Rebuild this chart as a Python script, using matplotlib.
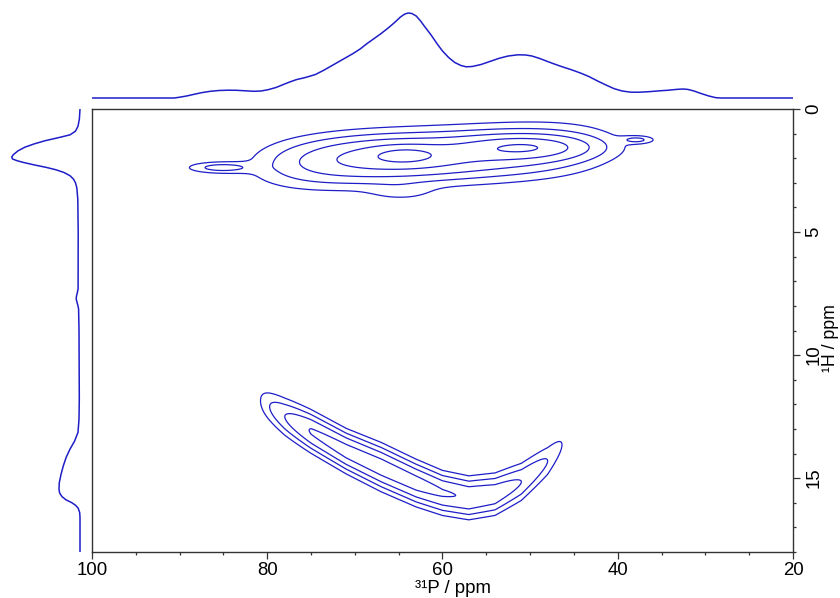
import numpy as np
import matplotlib
matplotlib.use("Agg")
import matplotlib.pyplot as plt
from matplotlib.ticker import MultipleLocator

plt.rcParams['font.family'] = ['Liberation Sans', 'DejaVu Sans']

# ---------------- data ----------------
# 31P projection (top): chemical shift (ppm) and intensity (arb.)
top_ppm = [100, 92, 90.6, 90.0, 89.2, 88.4, 87.5, 86.5, 85.5, 84.5, 83.5, 82.5, 81.5,
           80.7, 79.9, 79.0, 78.3, 77.5, 76.7, 75.6, 74.5, 73.5, 72.4, 71.3, 70.2,
           69.4, 68.6, 67.8, 67.0, 66.2, 65.4, 64.8, 64.3, 63.9, 63.5, 63.0, 62.5,
           62.0, 61.3, 60.6, 60.0, 59.3, 58.6, 57.9, 57.3, 56.6, 55.6, 54.6, 53.5,
           52.5, 51.4, 50.5, 49.8, 48.9, 48.1, 47.3, 46.5, 45.3, 44.2, 43.3, 42.3,
           41.3, 40.4, 39.5, 38.5, 37.5, 36.3, 35.2, 34.2, 33.3, 32.6, 32.0, 31.3,
           30.5, 29.6, 28.8, 28.2, 20]
top_int = [0, 0, 0, 0.8, 2.0, 3.6, 5.3, 6.7, 7.5, 7.8, 7.7, 7.2, 6.7,
           7.0, 8.3, 10.5, 13.0, 15.8, 18.3, 20.6, 23.5, 28, 33.5, 39, 44.5,
           49, 54.5, 59.5, 64.5, 70, 76, 81, 84, 85, 84.5, 82, 77,
           71, 63, 54, 47, 40.5, 35.5, 32.5, 31.2, 31.5, 33.5, 36.5, 39.8,
           42, 43.2, 43, 42, 39.5, 36.8, 34.2, 31.7, 28.3, 24.8, 21.5, 17,
           12.8, 9.3, 7.0, 5.8, 5.8, 6.4, 7.2, 7.8, 8.6, 9.0, 8.6, 7.0,
           4.5, 2.0, 0.3, 0, 0]

# 1H projection (left): chemical shift (ppm) and intensity (arb.)
left_ppm = [0.0, 0.4, 0.7, 0.9, 1.05, 1.15, 1.29, 1.42, 1.55, 1.7, 1.85, 1.95, 2.03,
            2.1, 2.17, 2.27, 2.37, 2.47, 2.58, 2.71, 2.85, 3.0, 3.2, 3.66, 5.0,
            7.3, 7.45, 7.6, 7.72, 7.85, 8.0, 8.13, 9.0, 11.8, 12.6, 13.14, 13.5,
            13.82, 14.15, 14.5, 14.85, 15.18, 15.45, 15.6, 15.75, 15.88, 15.99,
            16.1, 16.22, 16.4, 16.6, 18.0]
left_int = [0, 0.6, 2, 4.5, 10, 20, 35, 46, 55, 62, 66.5, 68.3, 67.5,
            63, 56.7, 46, 34, 24, 16, 10, 6.5, 4.5, 3.2, 2.2, 1.8,
            1.9, 2.6, 3.5, 3.8, 3.0, 2.0, 1.4, 1.0, 0.7, 1.0, 2.0, 5.5,
            10, 13.8, 16.7, 19, 20.7, 21, 20.4, 18, 14, 8.5,
            4.5, 1.8, 0.3, 0, 0]

# 2D cross peaks, upper correlation group: components
# (31P centre, 1H centre, 31P width, 1H width, amplitude, 31P shape exponent, 1H tilt ppm/ppm)
pk_p    = [61.0, 65.0, 64.3, 50.5, 85.3, 37.8, 64.7]
pk_h    = [1.92, 1.95, 1.85, 1.55, 2.38, 1.25, 3.35]
pk_wp   = [14.5, 5.5, 2.5, 4.5, 2.3, 1.2, 2.5]
pk_wh   = [0.60, 0.45, 0.25, 0.30, 0.14, 0.10, 0.25]
pk_amp  = [0.50, 0.30, 0.25, 0.50, 0.20, 0.17, 0.07]
pk_exp  = [4, 2, 2, 2, 2, 2, 2]
pk_tilt = [0.018, 0, 0, 0, 0, 0, 0]

# curved (banana-shaped) correlation: ridge nodes
ridge_p   = [46, 48, 51, 54, 57, 60, 63, 67, 71, 75, 78, 81]
ridge_h   = [13.5, 14.3, 15.15, 15.65, 15.8, 15.6, 15.2, 14.55, 13.9, 13.1, 12.5, 11.8]
ridge_amp = [0.04, 0.15, 0.30, 0.45, 0.52, 0.58, 0.68, 0.72, 0.68, 0.57, 0.30, 0.04]
ridge_wh  = [0.35, 0.4, 0.42, 0.43, 0.43, 0.43, 0.44, 0.45, 0.42, 0.42, 0.42, 0.40]

levels = [0.06, 0.15, 0.30, 0.55, 0.87]

# ---------------- build the 2D map ----------------
P = np.linspace(100, 20, 1000)
H = np.linspace(0, 18, 1000)
PP, HH = np.meshgrid(P, H)
Z = np.zeros_like(PP)
for p0, h0, wp, wh, a, e, t in zip(pk_p, pk_h, pk_wp, pk_wh, pk_amp, pk_exp, pk_tilt):
    hc = h0 + t * (PP - p0)
    Z += a * np.exp(-0.5 * np.abs((PP - p0) / wp) ** e - (HH - hc) ** 2 / (2 * wh ** 2))
rh = np.interp(P, ridge_p, ridge_h)
ra = np.interp(P, ridge_p, ridge_amp, left=0, right=0)
rw = np.interp(P, ridge_p, ridge_wh)
Z += ra[None, :] * np.exp(-(HH - rh[None, :]) ** 2 / (2 * rw[None, :] ** 2))

blue = '#1e1ec8'
frame = '#333333'

fig = plt.figure(figsize=(8.4, 5.98), dpi=100)
ax = fig.add_axes([92 / 840, 46 / 598, 701 / 840, 443 / 598])
ax.contour(PP, HH, Z, levels=levels, colors=blue, linewidths=0.9)
ax.set_xlim(100, 20)
ax.set_ylim(18, 0)

ax.xaxis.set_major_locator(MultipleLocator(20))
ax.xaxis.set_minor_locator(MultipleLocator(5))
ax.yaxis.set_major_locator(MultipleLocator(5))
ax.yaxis.set_minor_locator(MultipleLocator(1))
ax.yaxis.tick_right()
ax.yaxis.set_label_position('right')
for s in ax.spines.values():
    s.set_color(frame)
    s.set_linewidth(1.0)
ax.tick_params(which='both', direction='out', color=frame, labelsize=13.4,
               labelcolor='black')
ax.tick_params(which='major', length=5, width=0.9)
ax.tick_params(which='minor', length=2.5, width=0.9)
ax.tick_params(axis='x', pad=2)
ax.tick_params(axis='y', pad=4, labelrotation=90)
for t in ax.get_yticklabels():
    t.set_va('center')

ax.set_xlabel('³¹P / ppm', fontsize=13.4)
ax.xaxis.set_label_coords(0.515, -0.063)
ax.set_ylabel('¹H / ppm', fontsize=12.8, rotation=90)
ax.yaxis.set_label_coords(1.0415, 0.483)

# top projection
axt = fig.add_axes([92 / 840, (598 - 100) / 598, 701 / 840, 92 / 598])
axt.plot(top_ppm, top_int, color=blue, lw=1.1)
axt.set_xlim(100, 20)
axt.set_ylim(-2, 90)
axt.axis('off')

# left projection
axl = fig.add_axes([5 / 840, 46 / 598, 80 / 840, 443 / 598])
axl.plot(left_int, left_ppm, color=blue, lw=1.1)
axl.set_xlim(75, -5)
axl.set_ylim(18, 0)
axl.axis('off')

fig.savefig('out.png', dpi=100)
